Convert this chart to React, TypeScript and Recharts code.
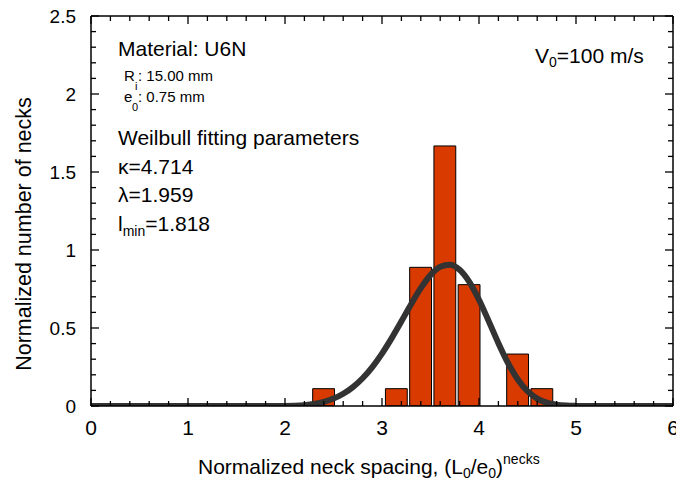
import React from "react";
import { ComposedChart, Bar, Line, XAxis, YAxis } from "recharts";

// histogram of normalized neck spacings (bin centers / normalized counts)
const BIN_CENTERS = [2.4, 3.15, 3.4, 3.65, 3.9, 4.4, 4.65];
const BIN_COUNTS = [0.111, 0.111, 0.889, 1.667, 0.778, 0.333, 0.111];
const BIN_WIDTH = 0.25;

// fitted Weibull density
const FIT_X = [
  0, 1.8, 1.9, 2.0, 2.1, 2.2, 2.3, 2.4, 2.5, 2.6, 2.7, 2.8, 2.9, 3.0, 3.1, 3.2,
  3.3, 3.4, 3.5, 3.6, 3.7, 3.8, 3.9, 4.0, 4.1, 4.2, 4.3, 4.4, 4.5, 4.6, 4.7,
  4.8, 4.9, 5.0, 5.1, 5.2, 6,
];
const FIT_Y = [
  0, 0, 0, 0.0004, 0.0018, 0.0056, 0.0132, 0.0264, 0.0475, 0.0784, 0.1214,
  0.1781, 0.2497, 0.336, 0.4351, 0.5429, 0.6527, 0.7552, 0.839, 0.8926, 0.9061,
  0.8736, 0.7959, 0.6812, 0.5442, 0.4028, 0.2741, 0.1701, 0.0952, 0.0476,
  0.0211, 0.0082, 0.0027, 0.0008, 0.0002, 0, 0,
];

const X_TICKS = [0, 1, 2, 3, 4, 5, 6];
const X_MINOR = [
  0.2, 0.4, 0.6, 0.8, 1.2, 1.4, 1.6, 1.8, 2.2, 2.4, 2.6, 2.8, 3.2, 3.4, 3.6,
  3.8, 4.2, 4.4, 4.6, 4.8, 5.2, 5.4, 5.6, 5.8,
];
const Y_TICKS = [0, 0.5, 1, 1.5, 2, 2.5];
const Y_MINOR = [
  0.1, 0.2, 0.3, 0.4, 0.6, 0.7, 0.8, 0.9, 1.1, 1.2, 1.3, 1.4, 1.6, 1.7, 1.8,
  1.9, 2.1, 2.2, 2.3, 2.4,
];

const W = 676;
const H = 481;
// each frame axis is 1px thick, so the plot box is 91..673 x 16..406
const MARGIN = { top: 15, right: 2, bottom: 74, left: 90 };
const X_DOMAIN: [number, number] = [0, 6];
const Y_DOMAIN: [number, number] = [0, 2.5];
const FONT = "'Liberation Sans', Arial, Helvetica, sans-serif";
const MAJOR = 8;
const MINOR = 5;
const TICK_W = 1.3;

const bins = BIN_CENTERS.map((x, i) => ({ x, n: BIN_COUNTS[i] }));
const fit = FIT_X.map((x, i) => ({ x, y: FIT_Y[i] }));
const allX = [...X_TICKS, ...X_MINOR].sort((a, b) => a - b);
const allY = [...Y_TICKS, ...Y_MINOR].sort((a, b) => a - b);

const plotW = W - MARGIN.left - MARGIN.right - 2;
const barPx = (BIN_WIDTH * plotW) / (X_DOMAIN[1] - X_DOMAIN[0]);

const frame = { stroke: "#000", strokeWidth: 1.5 };

// ticks point into the plot; only the bottom and left sides carry labels
function BottomTick(props: any) {
  const { x, y, payload } = props;
  const major = X_TICKS.includes(payload.value);
  return (
    <g>
      <line x1={x} x2={x} y1={y} y2={y - (major ? MAJOR : MINOR)} stroke="#000" strokeWidth={TICK_W} />
      {major && (
        <text x={x} y={y + 29} textAnchor="middle" fontSize={21} fontFamily={FONT} fill="#000">
          {payload.value}
        </text>
      )}
    </g>
  );
}

function TopTick(props: any) {
  const { x, y, payload } = props;
  const major = X_TICKS.includes(payload.value);
  return <line x1={x} x2={x} y1={y} y2={y + (major ? MAJOR : MINOR)} stroke="#000" strokeWidth={TICK_W} />;
}

function LeftTick(props: any) {
  const { x, y, payload } = props;
  const major = Y_TICKS.includes(payload.value);
  return (
    <g>
      <line x1={x} x2={x + (major ? MAJOR : MINOR)} y1={y} y2={y} stroke="#000" strokeWidth={TICK_W} />
      {major && (
        <text x={x - 15} y={y + 7} textAnchor="end" fontSize={19} fontFamily={FONT} fill="#000">
          {payload.value}
        </text>
      )}
    </g>
  );
}

function RightTick(props: any) {
  const { x, y, payload } = props;
  const major = Y_TICKS.includes(payload.value);
  return <line x1={x} x2={x - (major ? MAJOR : MINOR)} y1={y} y2={y} stroke="#000" strokeWidth={TICK_W} />;
}

export default function App() {
  return (
    <div style={{ position: "absolute", left: 0, top: 0, width: W, height: H, background: "#fff" }}>
      <ComposedChart width={W} height={H} data={bins} margin={MARGIN}>
        <XAxis xAxisId={0} type="number" dataKey="x" domain={X_DOMAIN} ticks={allX} interval={0}
          height={1} tickSize={0} tickMargin={0} tickLine={false} axisLine={frame}
          tick={(p: any) => <BottomTick {...p} />} allowDataOverflow />
        <XAxis xAxisId="t" orientation="top" type="number" dataKey="x" domain={X_DOMAIN} ticks={allX}
          interval={0} height={1} tickSize={0} tickMargin={0} tickLine={false} axisLine={frame}
          tick={(p: any) => <TopTick {...p} />} allowDataOverflow />
        <YAxis yAxisId={0} type="number" domain={Y_DOMAIN} ticks={allY} interval={0} width={1}
          tickSize={0} tickMargin={0} tickLine={false} axisLine={frame}
          tick={(p: any) => <LeftTick {...p} />} allowDataOverflow />
        <YAxis yAxisId="r" orientation="right" type="number" domain={Y_DOMAIN} ticks={allY}
          interval={0} width={1} tickSize={0} tickMargin={0} tickLine={false} axisLine={frame}
          tick={(p: any) => <RightTick {...p} />} allowDataOverflow />

        <Bar dataKey="n" barSize={barPx} fill="#d83a00" stroke="#000" strokeWidth={1}
          isAnimationActive={false} />
        <Line data={fit} xAxisId="t" dataKey="y" type="monotone" stroke="#333" strokeWidth={6}
          dot={false} activeDot={false} isAnimationActive={false} />
      </ComposedChart>

      <svg width={W} height={H} style={{ position: "absolute", left: 0, top: 0, pointerEvents: "none" }}
        fontFamily={FONT} fill="#000">
        <text x={118} y={56} fontSize={21}>Material: U6N</text>
        <text x={124} y={81} fontSize={15}>R</text>
        <text x={135} y={90} fontSize={11}>i</text>
        <text x={138} y={81} fontSize={15}>: 15.00 mm</text>
        <text x={124} y={102} fontSize={15}>e</text>
        <text x={132} y={111} fontSize={11}>0</text>
        <text x={138} y={102} fontSize={15}>: 0.75 mm</text>

        <text x={118} y={145} fontSize={21}>Weilbull fitting parameters</text>
        <text x={118} y={174} fontSize={21}>κ=4.714</text>
        <text x={118} y={202} fontSize={21}>λ=1.959</text>
        <text x={118} y={231} fontSize={21}>
          l<tspan fontSize={14} dy={5}>min</tspan>
          <tspan dy={-5}>=1.818</tspan>
        </text>

        <text x={535} y={63} fontSize={21}>
          V<tspan fontSize={14} dy={4}>0</tspan>
          <tspan dy={-4}>=100 m/s</tspan>
        </text>

        <text x={198} y={474} fontSize={21}>
          Normalized neck spacing, (L<tspan fontSize={14} dy={4}>0</tspan>
          <tspan dy={-4}>/e</tspan>
          <tspan fontSize={14} dy={4}>0</tspan>
          <tspan dy={-4}>)</tspan>
          <tspan fontSize={14} dy={-10}>necks</tspan>
        </text>
        <text transform="translate(31,234) rotate(-90)" textAnchor="middle" fontSize={21.5}>
          Normalized number of necks
        </text>
      </svg>
    </div>
  );
}
